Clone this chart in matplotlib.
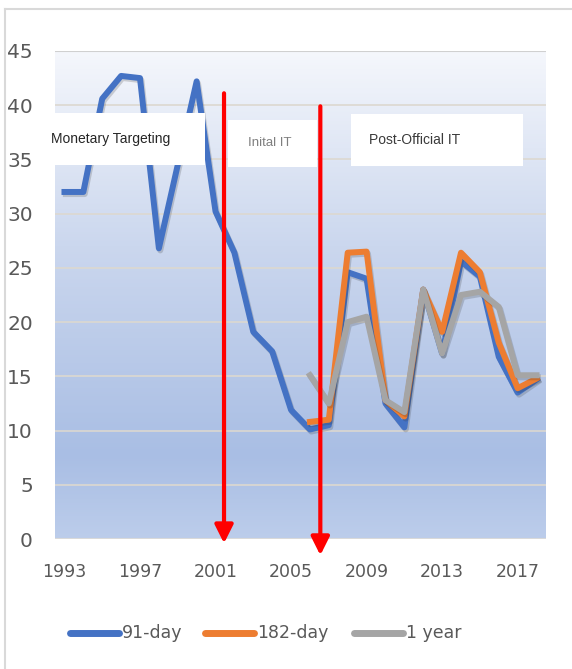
import numpy as np
import matplotlib
matplotlib.use('Agg')
import matplotlib.pyplot as plt
import matplotlib.patheffects as pe
from matplotlib.colors import LinearSegmentedColormap

years = list(range(1993, 2019))
day91 = [32.0, 32.0, 40.6, 42.7, 42.5, 26.8, 34.5, 42.2, 30.2, 26.4, 19.1, 17.3,
         11.9, 10.1, 10.5, 24.6, 24.0, 12.5, 10.3, 23.0, 17.1, 25.6, 24.2, 16.8,
         13.5, 14.7]
years_b = list(range(2006, 2019))
day182 = [10.8, 11.0, 26.4, 26.5, 12.8, 11.3, 23.0, 19.1, 26.4, 24.6, 18.1, 13.9, 14.8]
year1 = [15.1, 12.5, 20.0, 20.5, 12.8, 11.7, 23.0, 17.1, 22.5, 22.8, 21.4, 15.1, 15.1]
xtick_years = [1993, 1997, 2001, 2005, 2009, 2013, 2017]
yticks = [0, 5, 10, 15, 20, 25, 30, 35, 40, 45]
arrow_x = [2001.45, 2006.55]
arrow_top = [41.1, 39.9]
arrow_tip = [-0.4, -1.5]
periods = ['Monetary Targeting', 'Inital IT', 'Post-Official IT']

fig = plt.figure(figsize=(5.72, 6.69), dpi=100)
ax = fig.add_axes([0.0962, 0.1943, 0.8583, 0.7295])

# chart frame
fig.add_artist(plt.Line2D([5/572, 5/572], [0, 1 - 9/669], color='#d9d9d9', lw=1.5))
fig.add_artist(plt.Line2D([5/572, 1], [1 - 9/669, 1 - 9/669], color='#d9d9d9', lw=1.5))

# background gradient
cmap = LinearSegmentedColormap.from_list('bg', [(0, '#bccdeb'), (0.17, '#a9bee4'),
                                                (0.6, '#cbd7ee'), (1, '#f5f7fc')])
grad = np.linspace(0, 1, 256).reshape(-1, 1)
ax.imshow(grad, cmap=cmap, aspect='auto', extent=[1992.5, 2018.5, 0, 45],
          origin='lower', zorder=0)

for v in yticks[1:]:
    ax.axhline(v, color='#dcd8d0', lw=1.2, zorder=1)
ax.axhline(45, color='#d0d0d0', lw=1.5, zorder=1)
ax.axhline(0, color='#d9d9d9', lw=1.5, zorder=1)

shadow = [pe.SimpleLineShadow(offset=(1, -1.5), shadow_color='#303030', alpha=0.2), pe.Normal()]
ax.plot(years, day91, color='#4472c4', lw=4.3, solid_joinstyle='round', zorder=3, path_effects=shadow)
ax.plot(years_b, day182, color='#ed7d31', lw=4.3, solid_joinstyle='round', zorder=4, path_effects=shadow)
ax.plot(years_b, year1, color='#a5a5a5', lw=4.3, solid_joinstyle='round', zorder=5, path_effects=shadow)

for x, top, tip in zip(arrow_x, arrow_top, arrow_tip):
    ax.annotate('', xy=(x, tip), xytext=(x, top), annotation_clip=False,
                arrowprops=dict(arrowstyle='-|>,head_width=0.55,head_length=1.1',
                                color='#ff0000', lw=3, shrinkA=0, shrinkB=0), zorder=6)

# period labels
boxes = [(55, 113, 205, 165, 51), (228, 120, 317, 167, 248), (351, 114, 523, 166, 369)]
text_colors = ['#262626', '#7f7f7f', '#3a3a3a']
sizes = [10, 9.5, 10]
for (x0, y0, x1, y1, tx), label, tc, fs in zip(boxes, periods, text_colors, sizes):
    fig.add_artist(plt.Rectangle((x0/572, 1 - y1/669), (x1 - x0)/572, (y1 - y0)/669,
                                 facecolor='white', edgecolor='none', zorder=7))
    fig.text(tx/572, 1 - (y0 + y1)/2/669, label, color=tc, fontsize=fs,
             family='Liberation Sans', va='center', ha='left', zorder=8)

ax.set_xlim(1992.5, 2018.5)
ax.set_ylim(0, 45)
ax.set_xticks(xtick_years)
ax.set_xticklabels([str(y) for y in xtick_years])
ax.set_yticks(yticks)
ax.tick_params(length=0, labelcolor='#595959')
ax.tick_params(axis='x', labelsize=12.5, pad=17)
ax.tick_params(axis='y', labelsize=14.5, pad=16)
for s in ax.spines.values():
    s.set_visible(False)

# legend
leg_items = [('91-day', '#4472c4', 70), ('182-day', '#ed7d31', 205), ('1 year', '#a5a5a5', 354)]
for label, c, x0 in leg_items:
    yy = 1 - 633/669
    fig.add_artist(plt.Line2D([x0/572, (x0 + 49)/572], [yy, yy], color=c, lw=5,
                              solid_capstyle='round'))
    fig.text((x0 + 52)/572, yy, label, color='#595959', fontsize=12.5, va='center', ha='left')

fig.savefig('out.png', dpi=100)
